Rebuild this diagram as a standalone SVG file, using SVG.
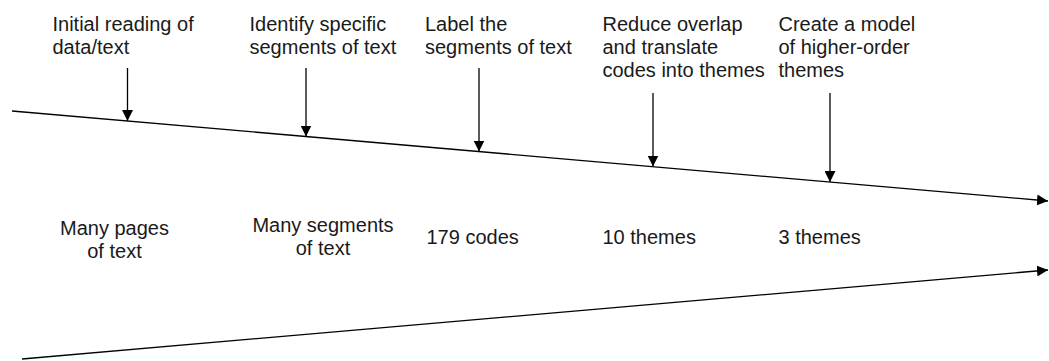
<svg xmlns="http://www.w3.org/2000/svg" width="1049" height="361" viewBox="0 0 1049 361">
<style>
text{font-family:"Liberation Sans",Arial,sans-serif;font-size:20px;fill:#1a1a1a}
.c{text-anchor:middle}
.ln{stroke:#000;stroke-width:1.3;fill:none}
</style>
<defs>
<marker id="ah" markerUnits="userSpaceOnUse" markerWidth="11" markerHeight="11" refX="10" refY="5" orient="auto" viewBox="0 0 10 10">
<path d="M0,0 L10,5 L0,10 z" fill="#000"/>
</marker>
</defs>
<rect width="1049" height="361" fill="#fff"/>
<g id="connectors">
<line class="ln" x1="12" y1="111" x2="1048" y2="201" marker-end="url(#ah)"/>
<line class="ln" x1="22" y1="359" x2="1048" y2="270" marker-end="url(#ah)"/>
<line class="ln" x1="127.5" y1="68" x2="127.5" y2="121" marker-end="url(#ah)"/>
<line class="ln" x1="306" y1="68" x2="306" y2="136.5" marker-end="url(#ah)"/>
<line class="ln" x1="479" y1="68" x2="479" y2="151.5" marker-end="url(#ah)"/>
<line class="ln" x1="653" y1="93" x2="653" y2="166.5" marker-end="url(#ah)"/>
<line class="ln" x1="830" y1="93" x2="830" y2="182" marker-end="url(#ah)"/>
</g>
<g id="step1"><text x="52.5" y="31">Initial reading of</text><text x="52.5" y="54">data/text</text></g>
<g id="step2"><text x="249.5" y="31">Identify specific</text><text x="249.5" y="54">segments of text</text></g>
<g id="step3"><text x="425" y="31">Label the</text><text x="425" y="54">segments of text</text></g>
<g id="step4"><text x="602.5" y="31">Reduce overlap</text><text x="602.5" y="54">and translate</text><text x="602.5" y="77">codes into themes</text></g>
<g id="step5"><text x="778.5" y="31">Create a model</text><text x="778.5" y="54">of higher-order</text><text x="778.5" y="77">themes</text></g>
<g id="out1"><text class="c" x="114.5" y="235">Many pages</text><text class="c" x="114.5" y="258">of text</text></g>
<g id="out2"><text class="c" x="323" y="231.5">Many segments</text><text class="c" x="323" y="254.5">of text</text></g>
<g id="out3"><text x="426.5" y="243.5">179 codes</text></g>
<g id="out4"><text x="602.5" y="243.5">10 themes</text></g>
<g id="out5"><text x="778.5" y="243.5">3 themes</text></g>
</svg>
